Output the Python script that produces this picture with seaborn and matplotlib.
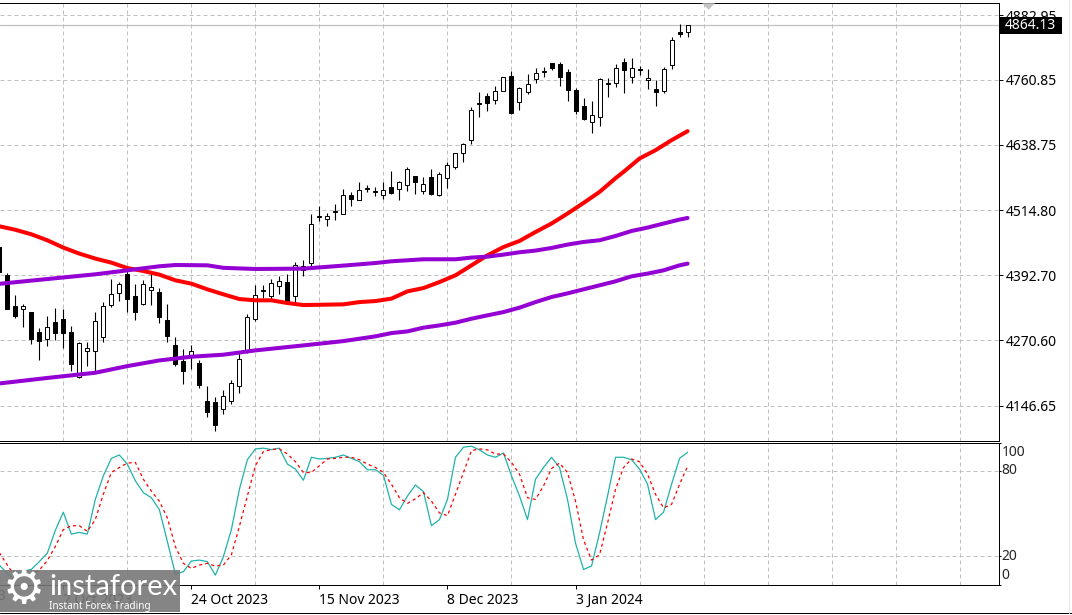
import numpy as np
import pandas as pd
import matplotlib
matplotlib.use("Agg")
import matplotlib.pyplot as plt
from matplotlib.lines import Line2D
from matplotlib.patches import Rectangle
import seaborn as sns

sns.set_theme(style="white")
plt.rcParams["font.family"] = ["Noto Sans", "DejaVu Sans"]

# ── Data ─────────────────────────────────────────────────────────────
bars = list(range(-1, 86))

opens = [4446.0, 4392.7, 4334.2, 4329.1, 4322.9, 4286.5, 4272.6, 4305.4, 4311.0, 4286.5,
         4200.9, 4250.7, 4250.7, 4276.3, 4336.7, 4360.1, 4394.6, 4354.4, 4338.6, 4365.7,
         4360.6, 4307.8, 4262.0, 4231.1, 4241.8, 4228.1, 4156.4, 4154.5, 4140.6, 4155.7,
         4184.7, 4248.1, 4310.3, 4363.8, 4353.7, 4373.3, 4380.8, 4353.7, 4403.4, 4416.6,
         4502.5, 4499.6, 4512.5, 4509.0, 4544.8, 4535.4, 4556.0, 4550.0, 4544.8, 4559.9,
         4555.4, 4563.7, 4578.8, 4552.4, 4578.8, 4544.8, 4576.1, 4597.3, 4623.7, 4646.7,
         4715.0, 4729.6, 4722.1, 4739.1, 4767.3, 4719.4, 4738.3, 4762.8, 4775.0, 4791.8,
         4790.0, 4774.9, 4741.5, 4710.8, 4681.7, 4690.0, 4753.0, 4754.1, 4793.7, 4766.6,
         4781.0, 4759.8, 4742.8, 4740.2, 4788.1, 4850.9, 4851.4]
highs = [4448.0, 4396.5, 4355.0, 4338.0, 4324.2, 4294.1, 4315.4, 4330.5, 4329.1, 4297.8,
         4266.9, 4266.4, 4324.2, 4343.1, 4386.5, 4379.5, 4402.1, 4377.0, 4384.6, 4395.9,
         4369.5, 4339.3, 4276.3, 4254.5, 4260.7, 4232.4, 4183.4, 4163.2, 4177.2, 4196.0,
         4248.1, 4319.2, 4373.8, 4373.8, 4386.5, 4390.8, 4395.9, 4417.8, 4422.3, 4509.0,
         4524.1, 4510.9, 4527.1, 4556.2, 4549.2, 4568.0, 4562.4, 4559.2, 4568.0, 4588.8,
         4570.5, 4597.6, 4579.9, 4578.0, 4592.0, 4588.2, 4606.3, 4622.7, 4641.0, 4708.9,
         4737.7, 4735.3, 4749.0, 4766.0, 4777.3, 4746.6, 4771.7, 4782.4, 4785.4, 4793.0,
         4794.3, 4780.5, 4744.7, 4726.4, 4720.2, 4763.6, 4763.6, 4790.0, 4801.3, 4801.8,
         4786.8, 4780.5, 4760.4, 4784.3, 4840.9, 4865.9, 4864.6]
lows = [4397.0, 4329.1, 4311.6, 4295.2, 4262.6, 4232.4, 4258.8, 4270.1, 4255.0, 4212.2,
        4199.8, 4221.1, 4212.2, 4266.9, 4332.9, 4343.7, 4323.5, 4308.4, 4336.1, 4336.1,
        4302.7, 4266.9, 4222.4, 4187.2, 4216.8, 4180.2, 4125.5, 4100.4, 4130.6, 4149.5,
        4170.8, 4245.6, 4305.9, 4349.3, 4345.5, 4356.9, 4339.9, 4341.8, 4391.4, 4408.3,
        4495.1, 4485.1, 4496.4, 4509.0, 4522.8, 4535.4, 4549.7, 4543.0, 4536.0, 4546.0,
        4534.7, 4551.1, 4546.7, 4545.4, 4544.8, 4542.2, 4556.7, 4593.1, 4605.7, 4639.7,
        4691.2, 4701.9, 4715.1, 4739.0, 4696.8, 4703.8, 4734.0, 4754.7, 4766.6, 4779.2,
        4749.0, 4720.8, 4696.3, 4684.9, 4660.4, 4673.6, 4728.3, 4746.6, 4736.4, 4755.3,
        4769.2, 4744.0, 4711.3, 4736.4, 4781.1, 4842.0, 4842.0]
closes = [4398.9, 4329.1, 4315.4, 4335.6, 4272.6, 4268.8, 4295.2, 4283.9, 4283.9, 4225.4,
          4265.8, 4256.4, 4307.3, 4335.6, 4358.2, 4377.0, 4348.0, 4323.5, 4377.0, 4371.4,
          4314.1, 4277.7, 4226.2, 4212.2, 4250.7, 4185.8, 4134.9, 4110.4, 4165.8, 4190.4,
          4235.6, 4314.8, 4355.5, 4365.0, 4378.2, 4382.7, 4342.3, 4412.1, 4410.2, 4490.2,
          4504.0, 4505.2, 4514.0, 4544.8, 4536.5, 4554.3, 4557.5, 4551.0, 4554.3, 4547.9,
          4567.5, 4592.0, 4568.6, 4565.6, 4546.0, 4582.6, 4601.4, 4622.2, 4639.1, 4703.2,
          4716.5, 4717.6, 4739.1, 4765.5, 4698.1, 4744.7, 4752.3, 4773.0, 4777.0, 4783.0,
          4766.6, 4742.1, 4702.5, 4687.4, 4694.9, 4761.7, 4755.0, 4782.4, 4779.8, 4782.4,
          4778.5, 4763.6, 4738.3, 4780.5, 4835.2, 4847.7, 4864.13]

red_bars = [-1, 1, 3, 5, 7, 9, 11, 13, 15, 17, 19, 21, 23, 25, 27, 29, 31, 33, 35, 37, 42,
            44, 46, 48, 50, 52, 54, 56, 58, 60, 62, 64, 66, 68, 70, 72, 74, 76, 77, 79, 81, 83, 85]
red_ma = [4485.1, 4478.5, 4470.0, 4458.7, 4444.9, 4433.6, 4424.2, 4416.6, 4406.4, 4400.8, 4394.0,
          4383.3, 4377.0, 4366.3, 4356.9, 4348.0, 4345.6, 4345.6, 4340.5, 4336.7, 4338.0,
          4342.3, 4344.2, 4348.8, 4362.5, 4368.7, 4380.0, 4392.7, 4411.5, 4430.4, 4446.0,
          4457.4, 4474.3, 4490.2, 4509.0, 4529.0, 4549.7, 4575.6, 4587.5, 4612.7, 4628.4, 4647.2, 4664.2]

upper_bars = [-1, 5, 11, 15, 19, 21, 25, 27, 31, 37, 42, 44, 46, 48, 50, 52, 54, 56, 58, 60, 62,
              64, 66, 68, 70, 72, 74, 76, 78, 80, 82, 84, 85]
upper_ma = [4376.7, 4385.7, 4394.6, 4402.1, 4409.7, 4412.1, 4411.5, 4406.8, 4404.6, 4405.3, 4411.0,
            4413.4, 4415.9, 4419.1, 4421.0, 4422.9, 4422.9, 4422.9, 4426.1, 4427.9, 4431.7, 4436.1,
            4439.3, 4444.2, 4450.6, 4455.5, 4458.7, 4466.8, 4476.2, 4482.6, 4490.2, 4497.7, 4500.7]

lower_bars = [-1, 5, 11, 15, 19, 23, 27, 31, 37, 42, 44, 46, 48, 50, 52, 54, 56, 58, 60, 62, 64,
              66, 68, 70, 72, 74, 76, 78, 80, 82, 84, 85]
lower_ma = [4189.0, 4199.4, 4209.2, 4221.7, 4232.4, 4239.4, 4243.2, 4251.3, 4260.7, 4268.8, 4273.3,
            4277.7, 4283.9, 4287.1, 4294.1, 4298.4, 4303.5, 4311.0, 4317.3, 4323.5, 4331.8, 4342.3,
            4351.8, 4358.7, 4366.3, 4373.8, 4381.4, 4390.8, 4395.9, 4402.1, 4411.5, 4414.7]

stoch_main = [13.7, 7.8, 3.0, 9.4, 10.6, 16.1, 22.0, 38.1, 50.9, 35.5, 36.7, 35.5, 59.9, 76.5, 88.8,
              91.2, 84.8, 73.0, 64.7, 61.1, 52.8, 30.3, 7.3, 9.0, 16.5, 17.2, 16.1, 6.6, 19.6, 38.6,
              67.0, 87.9, 95.5, 96.0, 95.0, 96.0, 84.8, 81.3, 73.4, 89.6, 88.4, 88.8, 89.6, 91.2, 88.8,
              86.5, 80.8, 80.8, 77.0, 56.4, 52.6, 62.3, 70.1, 65.4, 41.4, 45.7, 59.9, 89.6, 96.7, 97.4,
              94.8, 91.2, 89.6, 92.6, 76.5, 62.3, 45.7, 74.1, 82.4, 89.6, 82.4, 59.9, 29.1, 10.6, 13.0,
              36.2, 62.3, 89.6, 89.6, 87.9, 81.3, 70.6, 45.7, 50.9, 70.6, 88.8, 93.1]
stoch_signal = [22.5, 13.7, 5.4, 5.9, 6.6, 10.1, 16.8, 26.7, 38.6, 41.4, 41.4, 37.4, 45.7, 63.5, 78.9,
                82.4, 85.5, 86.0, 74.1, 65.8, 58.7, 46.9, 26.7, 14.9, 11.3, 13.7, 14.9, 13.0, 13.7, 20.8,
                40.9, 62.3, 83.6, 93.6, 95.0, 95.5, 91.9, 86.5, 78.9, 78.9, 83.6, 88.4, 88.8, 89.6, 89.6,
                87.9, 84.8, 82.4, 78.9, 70.6, 61.1, 57.1, 60.4, 64.7, 58.7, 50.4, 48.5, 63.5, 78.9, 94.3,
                95.5, 94.8, 91.9, 91.9, 86.0, 77.7, 61.1, 59.9, 69.4, 81.7, 85.5, 78.9, 58.7, 31.5, 17.2,
                20.8, 43.3, 67.0, 82.4, 88.4, 86.5, 77.7, 63.5, 54.0, 56.4, 70.6, 83.2]

price_ticks = [4882.95, 4760.85, 4638.75, 4514.80, 4392.70, 4270.60, 4146.65]
last_price = 4864.13
stoch_ticks = [100, 80, 20, 0]
date_bars = [7, 23, 39, 55, 71]
date_labels = ["2 Oct 2023", "24 Oct 2023", "15 Nov 2023", "8 Dec 2023", "3 Jan 2024"]
early_bar, early_label = -9, "8 Sep 2023"
grid_bars = list(range(7, 123, 8))

candles = pd.DataFrame({"bar": bars, "open": opens, "high": highs, "low": lows, "close": closes})
candles["top"] = candles[["open", "close"]].max(axis=1)
candles["bottom"] = candles[["open", "close"]].min(axis=1)

# ── Layout in pixels ─────────────────────────────────────────────────
W, H = 1072, 615
fig = plt.figure(figsize=(W / 100, H / 100), dpi=100, facecolor="white")
ax = fig.add_axes([0, 1 - 440.5 / H, 998.5 / W, 438 / H])
ax2 = fig.add_axes([0, 1 - 584.5 / H, 998.5 / W, 142 / H])

grid_style = dict(color="#c0c0c0", linewidth=0.72, linestyle=(0, (4, 3)))
for a in (ax, ax2):
    a.set_xlim(-0.91, 123.85)
    for side in ("right", "top", "bottom"):
        a.spines[side].set_visible(True)
        a.spines[side].set_color("black")
        a.spines[side].set_linewidth(0.72)
    a.spines["left"].set_visible(False)
    a.set_axisbelow(True)
    a.set_xticks(grid_bars, minor=True)
    a.xaxis.grid(True, which="minor", **grid_style)
    a.yaxis.grid(True, **grid_style)
    a.yaxis.tick_right()
    a.tick_params(axis="x", which="minor", length=0)
    a.tick_params(axis="y", right=True, length=3, width=0.72, color="black", pad=2.5,
                  labelsize=10, labelcolor="black")

# ── Price panel ──────────────────────────────────────────────────────
ax.set_ylim(4081.6, 4906.5)
ax.set_yticks(price_ticks)
ax.set_yticklabels([f"{p:.2f}" for p in price_ticks])
ax.set_xticks([])
ax.axhline(last_price, color="#c0c0c0", linewidth=0.9, zorder=1)

ax.vlines(candles["bar"], candles["low"], candles["high"], color="black", linewidth=0.8, zorder=2)
body_colors = ["white" if c >= o else "black" for o, c in zip(opens, closes)]
ax.bar(candles["bar"], candles["top"] - candles["bottom"], bottom=candles["bottom"], width=0.5,
       color=body_colors, edgecolor="black", linewidth=0.72, zorder=3)

for xs, ys, col in [(red_bars, red_ma, "#ff0000"), (upper_bars, upper_ma, "#9400d3"),
                    (lower_bars, lower_ma, "#9400d3")]:
    sns.lineplot(x=xs, y=ys, color=col, linewidth=2.9, ax=ax, zorder=4, errorbar=None)

# arrow marker at the top edge, current price box on the axis
ax.plot([87.5], [4900], marker=[(-1, 0.5), (1, 0.5), (0, -0.5)], markersize=9.4, color="#c4c4c4",
        clip_on=False, zorder=4, markeredgewidth=0)
fig.add_artist(Rectangle((1000 / W, 1 - 34 / H), 62 / W, 17 / H, transform=fig.transFigure,
                         facecolor="black", edgecolor="none", zorder=5))
fig.text(1005 / W, 1 - 25.5 / H, f"{last_price:.2f}", color="white", fontsize=10, va="center",
         ha="left", zorder=6)
ax.set_xlabel("")
ax.set_ylabel("")

# ── Stochastic panel ─────────────────────────────────────────────────
ax2.set_ylim(0, 100)
ax2.set_yticks(stoch_ticks)
ax2.set_yticklabels([])
ax2.yaxis.grid(False)
ax2.tick_params(axis="y", length=1.5)
for v in (20, 80):
    ax2.axhline(v, zorder=1, **grid_style)
label_offsets = {100: -10, 80: 0, 20: 0, 0: 9}
for v in stoch_ticks:
    ax2.annotate(str(v), xy=(1, v), xycoords=("axes fraction", "data"),
                 xytext=(3, label_offsets[v]), textcoords="offset pixels",
                 fontsize=10, va="center", ha="left", annotation_clip=False)

sns.lineplot(x=bars, y=stoch_main, color="#20b2aa", linewidth=0.9, ax=ax2, zorder=3, errorbar=None)
sns.lineplot(x=bars, y=stoch_signal, color="#ff0000", linewidth=0.9, ax=ax2, zorder=3, errorbar=None,
             linestyle=(0, (2.5, 2.5)))
ax2.set_xticks(date_bars)
ax2.set_xticklabels(date_labels, ha="left", fontsize=10, color="black")
ax2.tick_params(axis="x", which="major", bottom=True, length=3, width=0.72, color="black", pad=3)
ax2.annotate(early_label, xy=(early_bar, 0), xytext=(0, -12), textcoords="offset pixels",
             fontsize=10, ha="left", va="center", annotation_clip=False)
ax2.set_xlabel("")
ax2.set_ylabel("")

# ── Frame and watermark ──────────────────────────────────────────────
fig.add_artist(Line2D([0, 1], [1 - 612.8 / H] * 2, color="black", linewidth=0.72))
fig.add_artist(Line2D([1068.5 / W] * 2, [1 - 612.8 / H, 1], color="#e6e6e6", linewidth=0.72))
fig.add_artist(Rectangle((0, 1 - 612 / H), 180 / W, 42 / H, transform=fig.transFigure,
                         facecolor="#787878", alpha=0.9, edgecolor="none", zorder=5))
fig.text(24 / W, 1 - 590 / H, "\u2699", color="white", fontsize=34, family="DejaVu Sans",
         ha="center", va="center", zorder=6)
fig.text(49 / W, 1 - 587 / H, "instaforex", color="white", fontsize=21, family="Lato",
         ha="left", va="center", zorder=6)
fig.text(49 / W, 1 - 606 / H, "Instant Forex Trading", color="white", fontsize=7.2, family="Noto Sans",
         ha="left", va="center", zorder=6)

fig.savefig("out.png", dpi=100)
